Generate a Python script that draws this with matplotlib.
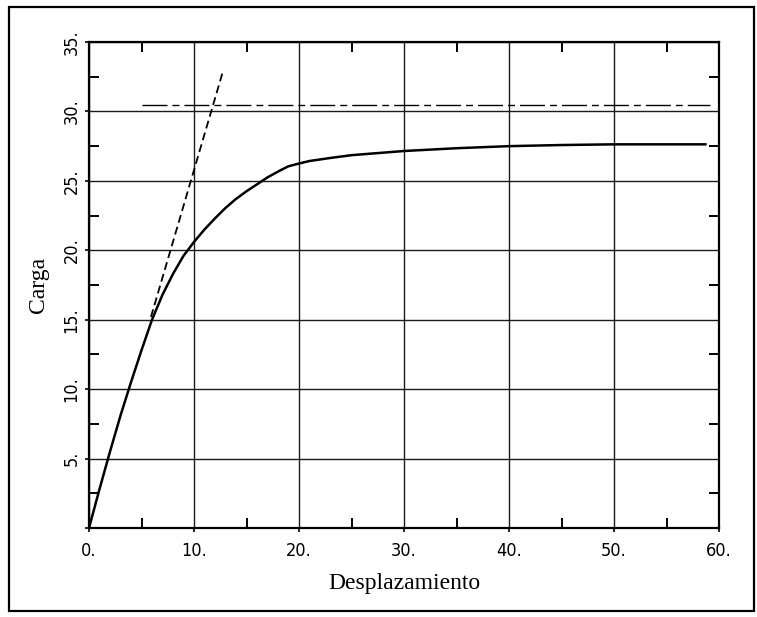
import matplotlib
matplotlib.use("Agg")
import matplotlib.pyplot as plt
from matplotlib.patches import Rectangle
from matplotlib.ticker import MultipleLocator
from matplotlib import font_manager

# load-displacement curve
desplazamiento = [0, 1, 2, 3, 4, 5, 6, 7, 8, 9, 10, 11, 12, 13, 14, 15, 16, 17, 18.2,
                  19, 20, 21, 23, 25, 27.5, 30, 35, 40, 45, 50, 55, 58.7]
carga = [0, 2.8, 5.5, 8.1, 10.5, 12.8, 15.0, 16.8, 18.3, 19.6, 20.6, 21.5, 22.3, 23.05,
         23.7, 24.25, 24.75, 25.25, 25.75, 26.05, 26.25, 26.43, 26.65, 26.85, 27.0, 27.15,
         27.35, 27.5, 27.58, 27.63, 27.63, 27.63]

# initial stiffness (dashed) and limit load (dash-dot)
rigidez_x = [5.9, 12.8]
rigidez_y = [15.2, 33.0]
limite_x = [5.0, 59.1]
limite_y = [30.45, 30.45]

xticks = [0, 10, 20, 30, 40, 50, 60]
xtick_labels = ["0.", "10.", "20.", "30.", "40.", "50.", "60."]
yticks = [0, 5, 10, 15, 20, 25, 30, 35]
ytick_labels = ["", "5.", "10.", "15.", "20.", "25.", "30.", "35."]

names = {f.name for f in font_manager.fontManager.ttflist}
if "Liberation Sans Narrow" in names:
    tick_font = dict(family="Liberation Sans Narrow", fontsize=13.4)
else:
    tick_font = dict(family="DejaVu Sans", stretch="condensed", fontsize=13)
label_font = ["Liberation Serif", "DejaVu Serif"]

fig = plt.figure(figsize=(7.57, 6.17), dpi=100)
ax = fig.add_axes([89 / 757, 89 / 617, 630 / 757, 486 / 617])

ax.plot(desplazamiento, carga, color="black", lw=1.8, solid_joinstyle="round")
ax.plot(rigidez_x, rigidez_y, color="black", lw=1.3, linestyle=(0, (4.4, 2.4)))
ax.plot(limite_x, limite_y, color="black", lw=1.0, linestyle=(0, (18, 3.6, 5, 3.6)))

ax.set_xlim(0, 60)
ax.set_ylim(0, 35)
ax.set_xticks(xticks)
ax.set_xticklabels(xtick_labels, **tick_font)
ax.set_yticks(yticks)
ax.set_yticklabels(ytick_labels, rotation=90, va="center", **tick_font)
ax.xaxis.set_minor_locator(MultipleLocator(5))
ax.yaxis.set_minor_locator(MultipleLocator(2.5))

ax.grid(which="major", color="#1a1a1a", lw=1.0)
ax.tick_params(which="major", direction="out", length=3, width=1.2,
               top=False, right=False)
ax.tick_params(axis="x", which="major", pad=7)
ax.tick_params(axis="y", which="major", pad=3)
ax.tick_params(which="minor", direction="in", length=7.2, width=1.4,
               top=True, right=True, bottom=True, left=True)
for s in ax.spines.values():
    s.set_linewidth(1.6)

ax.text(0.5, -0.1255, "Desplazamiento", transform=ax.transAxes, ha="center",
        va="baseline", family=label_font, fontsize=17)
ax.text(-0.080, 0.5, "Carga", transform=ax.transAxes, ha="center", va="center",
        rotation=90, family=label_font, fontsize=17)

# outer frame around the whole plot
fig.patches.append(Rectangle((9 / 757, 6 / 617), 745 / 757, 604 / 617,
                             transform=fig.transFigure, fill=False,
                             edgecolor="black", lw=1.6))

fig.savefig("out.png", dpi=100)
